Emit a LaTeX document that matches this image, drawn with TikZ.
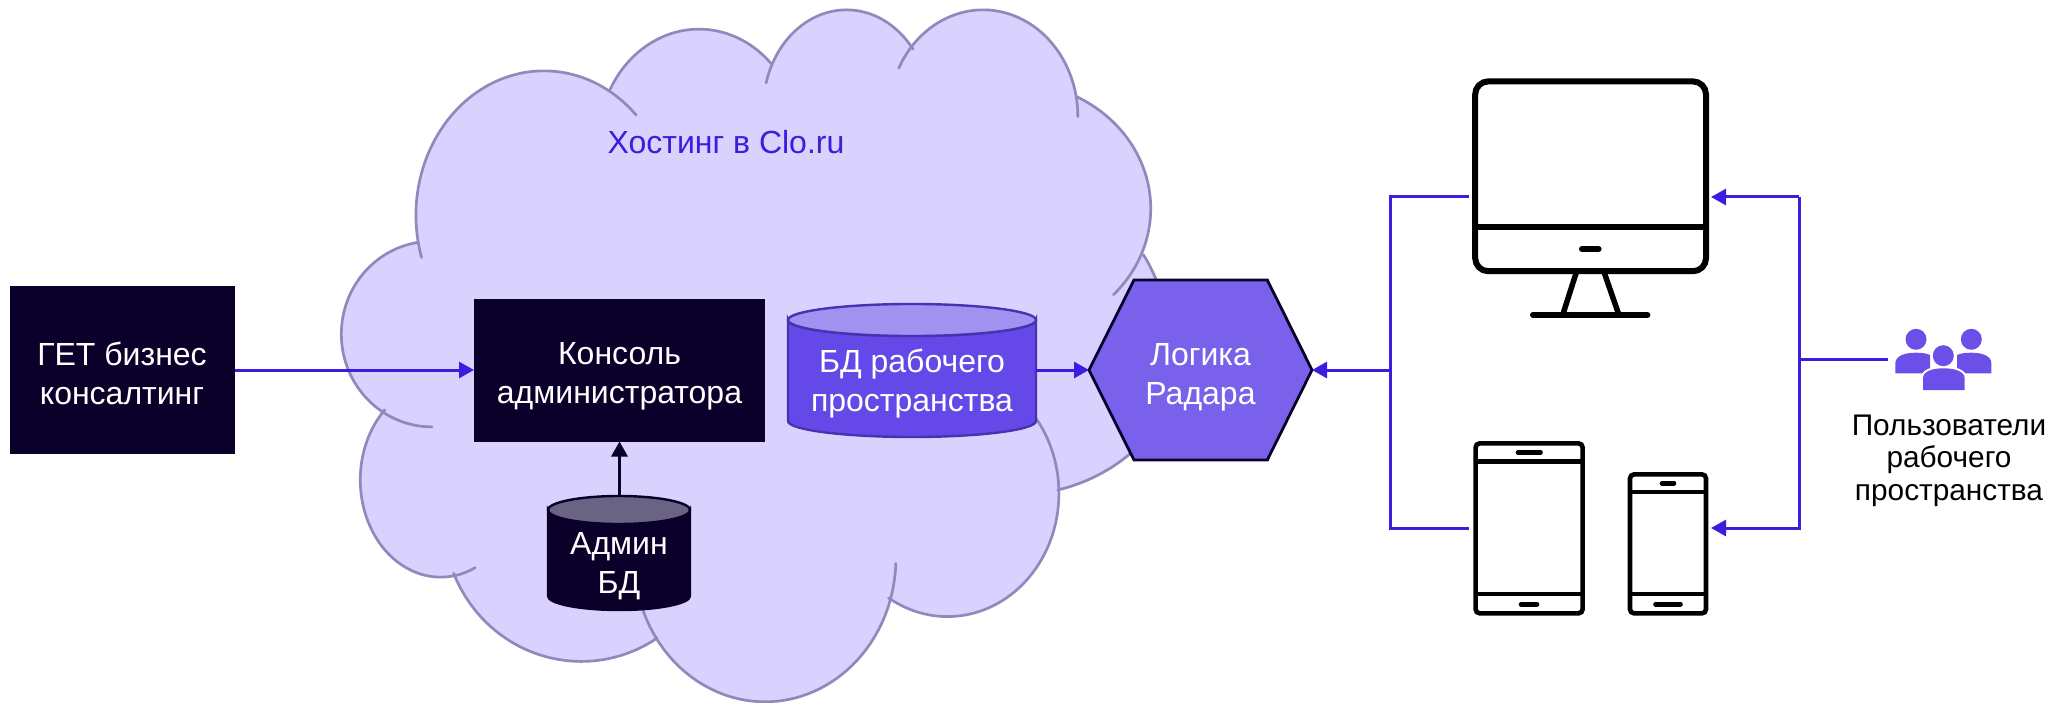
\documentclass[tikz,border=0pt]{standalone}
\usepackage{fontspec}
\setmainfont{Liberation Sans}
\usetikzlibrary{arrows.meta,calc}
\definecolor{navy}{HTML}{0A0029}
\definecolor{indigo}{HTML}{3D1CDE}
\definecolor{cloudfill}{HTML}{D9D2FF}
\definecolor{cloudline}{HTML}{9189BB}
\definecolor{hexfill}{HTML}{7A61EC}
\definecolor{dbbody}{HTML}{6548E8}
\definecolor{dbtop}{HTML}{A292F0}
\definecolor{dbline}{HTML}{4A31B0}
\definecolor{admtop}{HTML}{6A6484}
\definecolor{userfill}{HTML}{6B4FE8}
\tikzset{
  txt/.style={font=\fontsize{32}{39}\selectfont,align=center,inner sep=0pt},
  blackbox/.style={rectangle,fill=navy,draw=navy,line width=1pt,anchor=center,inner sep=0pt},
  frame/.style={draw=black,line width=#1,rounded corners=4pt,fill=white},
  iconline/.style={draw=black,line width=#1,line cap=round},
  link/.style={draw=indigo,line width=3pt},
  linkarrow/.style={link,-{Triangle[length=15pt,width=16pt]}},
  lobe/.style={draw=cloudline,line width=2.7pt,line cap=round},
}
\newcommand{\lobe}[6]{\fill[cloudfill] (#1,#2) ellipse[x radius=#3,y radius=#4];}
\newcommand{\lobeline}[6]{\draw[lobe] (#1,#2) ++(#5:#3 and #4) arc[start angle=#5,end angle=#6,x radius=#3,y radius=#4];}
\newcommand{\cloudlobes}[1]{%
#1{425}{480}{223}{322}{163}{316}
#1{695}{317}{175}{252}{207.6}{316}
#1{952}{242}{145}{220}{195}{323}
#1{1190}{260}{165}{238}{207}{360}
#1{1240}{465}{242}{282}{297.6}{403}
#1{1240}{790}{290}{315}{-20}{74}
#1{1128}{1100}{194}{275}{-50}{122}
#1{810}{1245}{228}{320}{2}{160}
#1{490}{1160}{240}{315}{56.6}{158}
#1{245}{1070}{140}{217}{64.5}{226}
#1{230}{745}{158}{207}{90}{261}
}
\begin{document}
\begin{tikzpicture}[x=1pt,y=-1pt]
\useasboundingbox (0,0) rectangle (2066,703);
% cloud
\begin{scope}[x=0.57405pt,y=-0.44843pt,xshift=300pt]
\cloudlobes{\lobe}
\fill[cloudfill] (205,535) -- (540,200) -- (822,140) -- (1068,105) -- (1352,215) -- (1469,568) -- (1491,622) -- (1446,1007) -- (1321,1093) -- (1025,1330) -- (622,1415) -- (268,1280) -- (148,925) -- cycle;
\cloudlobes{\lobeline}
\draw[lobe] (1469,568) .. controls (1478,585) and (1485,605) .. (1491,622);
\end{scope}
\node[txt,text=indigo] (host) at (726,142) {Хостинг в Clo.ru};
% boxes
\node[blackbox,minimum width=224pt,minimum height=167pt] (get) at (122.5,370) {};
\node[txt,text=white] (gettext) at (122,373) {ГЕТ бизнес\\консалтинг};
\node[blackbox,minimum width=290pt,minimum height=142pt] (console) at (619.5,370) {};
\node[txt,text=white] (consoletext) at (619.5,376) {Консоль\\администратора};
% workspace DB
\draw[fill=dbbody,draw=dbline,line width=2.4pt] (788,320) -- (788,421) arc[start angle=180,end angle=0,x radius=124,y radius=16] -- (1036,320) arc[start angle=0,end angle=180,x radius=124,y radius=16] -- cycle;
\draw[fill=dbtop,draw=dbline,line width=2.4pt] (912,320) ellipse[x radius=124,y radius=16];
\node[txt,text=white,minimum width=248pt,minimum height=101pt] (dbwork) at (912,384) {БД рабочего\\пространства};
% admin DB
\draw[fill=navy,draw=navy,line width=2.4pt] (548,510) -- (548,596) arc[start angle=180,end angle=0,x radius=71,y radius=14] -- (690,510) arc[start angle=0,end angle=180,x radius=71,y radius=14] -- cycle;
\draw[fill=admtop,draw=navy,line width=2.4pt] (619,510) ellipse[x radius=71,y radius=14];
\node[txt,text=white,minimum width=142pt,minimum height=86pt] (dbadmin) at (619,566) {Админ\\БД};
\coordinate (admintop) at (619.5,496);
% hexagon
\coordinate (hexw) at (1089,370);
\coordinate (hexe) at (1312,370);
\draw[fill=hexfill,draw=navy,line width=2.8pt,line join=miter] (hexw) -- (1134,280) -- (1267.3,280) -- (hexe) -- (1267.3,460) -- (1134,460) -- cycle;
\node[txt,text=white] (logic) at (1200.5,377) {Логика\\Радара};
% monitor
\coordinate (monL) at (1468.5,197);
\coordinate (monR) at (1711,197);
\draw[frame=6pt,rounded corners=13pt] (1475.2,81.4) rectangle (1706,271.2);
\draw[iconline=6pt,line cap=butt] (1475.2,227.2) -- (1706,227.2);
\draw[iconline=6pt] (1582,249) -- (1598.6,249);
\draw[iconline=5.5pt,line cap=butt] (1576.4,272) -- (1563,314);
\draw[iconline=5.5pt,line cap=butt] (1604,272) -- (1618.6,314);
\draw[iconline=6pt] (1533,314.8) -- (1647.4,314.8);
% tablet
\coordinate (tabL) at (1468.5,528);
\draw[frame=4.6pt] (1475.6,443.4) rectangle (1582.6,613.3);
\draw[iconline=4.6pt,line cap=butt] (1475.6,461.4) -- (1582.6,461.4);
\draw[iconline=4.6pt,line cap=butt] (1475.6,594) -- (1582.6,594);
\draw[iconline=4.6pt] (1518,452.6) -- (1540.5,452.6);
\draw[iconline=4.6pt] (1521,604.2) -- (1537,604.2);
% phone
\coordinate (phoR) at (1711,528);
\draw[frame=4.6pt] (1630,474.4) rectangle (1706,613.3);
\draw[iconline=4.6pt,line cap=butt] (1630,492) -- (1706,492);
\draw[iconline=4.6pt,line cap=butt] (1630,594) -- (1706,594);
\draw[iconline=4.6pt] (1662,483.2) -- (1674,483.2);
\draw[iconline=4.6pt] (1655.5,604.2) -- (1680.5,604.2);
% users icon
\coordinate (usersW) at (1888,359);
\begin{scope}[fill=userfill]
\fill (1916,339.3) circle[radius=10.5];
\fill (1971.3,339.3) circle[radius=10.5];
\fill (1895.3,373.3) -- (1895.3,363) .. controls (1896,355) and (1906,352.7) .. (1916,352.7) .. controls (1922,352.7) and (1927,353.5) .. (1930,355) -- (1930,373.3) -- cycle;
\fill (1991.4,373.3) -- (1991.4,363) .. controls (1990.7,355) and (1981,352.7) .. (1971,352.7) .. controls (1965,352.7) and (1960,353.5) .. (1957,355) -- (1957,373.3) -- cycle;
\fill[white] (1943.3,355.7) circle[radius=13];
\filldraw[draw=white,line width=4pt,fill=white] (1923,390) -- (1923,378.3) .. controls (1923,371) and (1933,368.3) .. (1943.3,368.3) .. controls (1954,368.3) and (1964.7,371) .. (1964.7,378.3) -- (1964.7,390) -- cycle;
\fill (1943.3,355.7) circle[radius=10.5];
\fill (1923,390) -- (1923,378.3) .. controls (1923,371) and (1933,368.3) .. (1943.3,368.3) .. controls (1954,368.3) and (1964.7,371) .. (1964.7,378.3) -- (1964.7,390) -- cycle;
\end{scope}
\node[inner sep=0pt,align=center,font=\fontsize{29.8}{32.5}\selectfont] (users) at (1949,460.5) {Пользователи\\рабочего\\пространства};
% connectors
\draw[linkarrow] (get.east) -- (console.west);
\draw[draw=navy,line width=3pt,-{Triangle[length=15pt,width=16pt]}] (admintop) -- (console.south);
\draw[linkarrow] (dbwork.east |- hexw) -- (hexw);
\draw[link] (monL) -- (1390,197) -- (1390,528) -- (tabL);
\draw[linkarrow] (1390,370) -- (hexe);
\draw[linkarrow] (1799,197) -- (monR);
\draw[linkarrow] (1799,197) -- (1799,528) -- (phoR);
\draw[link] (usersW) -- (1799,359);
\end{tikzpicture}
\end{document}
